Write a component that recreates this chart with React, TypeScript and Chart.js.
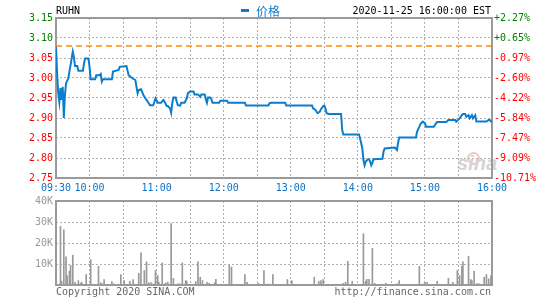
import React, { useEffect, useRef } from 'react';
import { Chart, registerables } from 'chart.js';

Chart.register(...registerables);

// ---------- data ----------
const SYMBOL = 'RUHN';
const LEGEND_LABEL = '价格';
const TIMESTAMP = '2020-11-25 16:00:00 EST';
const COPYRIGHT = 'Copyright 2020 SINA.COM';
const SOURCE_URL = 'http://finance.sina.com.cn';
const PREV_CLOSE = 3.08;

const priceTicks = [2.75, 2.8, 2.85, 2.9, 2.95, 3.0, 3.05, 3.1, 3.15];
const pctTickLabels = ['-10.71%', '-9.09%', '-7.47%', '-5.84%', '-4.22%', '-2.60%', '-0.97%', '+0.65%', '+2.27%'];
const timeTicks = [0, 30, 60, 90, 120, 150, 180, 210, 240, 270, 300, 330, 360, 390];
const timeTickLabels = ['09:30', '10:00', '', '11:00', '', '12:00', '', '13:00', '', '14:00', '', '15:00', '', '16:00'];
const volumeTicks = [0, 10000, 20000, 30000, 40000];
const volumeTickLabels = ['', '10K', '20K', '30K', '40K'];

// minutes after 09:30
const priceMinutes = [
  0, 1, 2, 3, 4, 5, 6, 7, 8, 9, 11, 12, 13, 14, 15, 16, 17, 19, 20, 24,
  25, 26, 29, 30, 31, 35, 36, 39, 40, 41, 42, 50, 51, 56, 57, 63, 65, 68, 71, 72,
  73, 74, 76, 77, 78, 80, 83, 84, 87, 89, 91, 94, 96, 97, 99, 100, 102, 103, 104, 105,
  107, 108, 109, 111, 112, 115, 117, 118, 120, 123, 124, 127, 129, 130, 133, 134, 135, 136, 138, 139,
  140, 146, 147, 153, 154, 169, 170, 190, 191, 193, 205, 206, 229, 230, 232, 234, 236, 237, 239, 240,
  241, 242, 244, 255, 256, 257, 271, 272, 273, 274, 275, 276, 277, 279, 280, 281, 282, 283, 284, 292,
  293, 294, 303, 305, 306, 307, 322, 323, 325, 326, 328, 330, 331, 338, 340, 341, 349, 351, 357, 358,
  361, 363, 364, 366, 367, 369, 370, 372, 373, 375, 376, 385, 387, 388, 390,
];
const prices = [
  3.078, 3.012, 2.962, 2.94, 2.975, 2.945, 2.978, 2.9, 2.958, 2.987, 2.999, 3.016, 3.032, 3.049, 3.066, 3.053, 3.03, 3.03, 3.018, 3.018,
  3.035, 3.049, 3.049, 3.028, 2.997, 2.997, 3.007, 3.007, 3.01, 2.991, 2.997, 2.997, 3.016, 3.02, 3.028, 3.03, 3.007, 3.0, 2.995, 2.978,
  2.962, 2.97, 2.972, 2.966, 2.958, 2.949, 2.937, 2.932, 2.932, 2.949, 2.938, 2.938, 2.945, 2.941, 2.93, 2.93, 2.924, 2.913, 2.937, 2.951,
  2.951, 2.941, 2.932, 2.931, 2.938, 2.938, 2.949, 2.962, 2.966, 2.966, 2.959, 2.959, 2.953, 2.959, 2.959, 2.947, 2.938, 2.951, 2.951, 2.947,
  2.938, 2.938, 2.943, 2.943, 2.938, 2.938, 2.931, 2.931, 2.937, 2.938, 2.938, 2.931, 2.931, 2.924, 2.92, 2.912, 2.916, 2.922, 2.93, 2.931,
  2.924, 2.912, 2.91, 2.91, 2.87, 2.859, 2.859, 2.849, 2.837, 2.824, 2.795, 2.782, 2.791, 2.797, 2.797, 2.791, 2.782, 2.788, 2.797, 2.798,
  2.816, 2.824, 2.826, 2.82, 2.838, 2.851, 2.851, 2.866, 2.878, 2.885, 2.891, 2.887, 2.878, 2.878, 2.887, 2.89, 2.89, 2.895, 2.895, 2.891,
  2.899, 2.907, 2.91, 2.91, 2.903, 2.907, 2.899, 2.907, 2.899, 2.907, 2.891, 2.891, 2.895, 2.895, 2.889,
];

const volumeMinutes = [
  0, 4, 5, 7, 9, 10, 12, 13, 15, 17, 20, 22, 23, 25, 27, 31, 38, 40, 41, 43,
  46, 50, 52, 58, 61, 66, 69, 74, 76, 79, 81, 83, 85, 87, 89, 91, 92, 95, 98, 100,
  103, 105, 109, 111, 113, 116, 117, 125, 127, 129, 131, 135, 137, 142, 143, 145, 147, 155, 157, 169,
  171, 181, 186, 190, 194, 207, 211, 231, 235, 237, 239, 243, 257, 259, 261, 265, 273, 275, 277, 278,
  280, 283, 285, 295, 305, 307, 325, 329, 330, 332, 341, 351, 355, 359, 361, 363, 364, 369, 371, 372,
  374, 377, 379, 383, 385, 387, 389,
];
const volumesK = [
  35.5, 27.9, 1.8, 26.3, 13.4, 4.5, 6.6, 9.4, 14.2, 1.3, 2.1, 0.8, 1.3, 0.2, 5.0, 12.1, 8.9, 1.1, 0.6, 2.6,
  0.2, 1.6, 0.5, 5.0, 2.1, 1.8, 2.6, 5.6, 15.3, 6.9, 11.0, 1.1, 1.1, 0.5, 6.9, 4.5, 1.3, 10.5, 1.0, 1.3,
  29.2, 3.2, 0.6, 0.6, 10.5, 2.1, 1.8, 1.6, 11.0, 3.7, 2.1, 1.3, 0.8, 1.1, 2.7, 0.3, 0.3, 9.4, 8.5, 5.0,
  1.3, 0.8, 6.9, 0.5, 5.0, 2.6, 2.1, 3.7, 1.8, 2.1, 2.6, 0.2, 0.8, 1.3, 11.3, 1.8, 0.3, 24.4, 1.8, 2.7,
  2.7, 17.4, 0.8, 0.8, 0.5, 2.1, 8.9, 0.5, 1.3, 1.3, 1.8, 3.2, 1.3, 6.9, 4.5, 8.9, 11.0, 13.7, 2.6, 2.1,
  6.6, 0.8, 0.5, 3.7, 5.0, 2.9, 4.5,
];

// ---------- styles ----------
const MONO = '"DejaVu Sans Mono", "Liberation Mono", monospace';
const BLUE = '#0b7dcc';
const LABEL_BLUE = '#0a72c8';
const GREEN = '#008000';
const RED = '#ff0000';
const ORANGE = '#ff8c00';
const GRID = '#b0b0b0';
const FRAME = '#9a9a9a';
const VOL_GRAY = '#999999';

const W = 545;
const H = 300;

const framePlugin = {
  id: 'frame',
  beforeDatasetsDraw(chart: any) {
    const { ctx, chartArea } = chart;
    ctx.save();
    ctx.strokeStyle = FRAME;
    ctx.lineWidth = 2;
    ctx.strokeRect(chartArea.left, chartArea.top, chartArea.right - chartArea.left, chartArea.bottom - chartArea.top);
    ctx.restore();
  },
};

export default function App() {
  const priceRef = useRef<HTMLCanvasElement | null>(null);
  const volRef = useRef<HTMLCanvasElement | null>(null);

  useEffect(() => {
    const font = { family: MONO, size: 10 };
    const priceColor = (c: any) => (c.tick && c.tick.value > PREV_CLOSE + 1e-9 ? GREEN : RED);

    const priceChart = new Chart(priceRef.current as HTMLCanvasElement, {
      type: 'line',
      data: {
        datasets: [
          {
            data: priceMinutes.map((m, i) => ({ x: m, y: prices[i] })),
            borderColor: BLUE,
            borderWidth: 2,
            pointRadius: 0,
            tension: 0,
            fill: false,
            order: 0,
          },
          {
            data: [
              { x: timeTicks[0], y: PREV_CLOSE },
              { x: timeTicks[timeTicks.length - 1], y: PREV_CLOSE },
            ],
            borderColor: ORANGE,
            borderWidth: 1.5,
            borderDash: [6, 4],
            pointRadius: 0,
            fill: false,
            order: 1,
          },
        ],
      },
      options: {
        animation: false,
        responsive: false,
        maintainAspectRatio: false,
        events: [],
        layout: { padding: { top: 18, left: 0, right: 0, bottom: 0 } },
        plugins: { legend: { display: false }, tooltip: { enabled: false } },
        scales: {
          x: {
            type: 'linear',
            min: 0,
            max: 390,
            afterBuildTicks: (s: any) => {
              s.ticks = timeTicks.map((v) => ({ value: v }));
            },
            afterFit: (s: any) => {
              s.height = 122;
            },
            ticks: {
              autoSkip: false,
              maxRotation: 0,
              padding: 4,
              color: LABEL_BLUE,
              font,
              callback: (_v: any, i: number) => timeTickLabels[i],
            },
            grid: { color: GRID, lineWidth: 1, drawTicks: false },
            border: { display: false, dash: [2, 2] },
          },
          y: {
            position: 'left',
            min: 2.75,
            max: 3.15,
            afterBuildTicks: (s: any) => {
              s.ticks = priceTicks.map((v) => ({ value: v }));
            },
            afterFit: (s: any) => {
              s.width = 56;
            },
            ticks: {
              padding: 3,
              color: priceColor,
              font,
              callback: (v: any) => Number(v).toFixed(2),
            },
            grid: { color: GRID, lineWidth: 1, drawTicks: false },
            border: { display: false, dash: [2, 2] },
          },
          y2: {
            position: 'right',
            min: 2.75,
            max: 3.15,
            afterBuildTicks: (s: any) => {
              s.ticks = priceTicks.map((v) => ({ value: v }));
            },
            afterFit: (s: any) => {
              s.width = 53;
            },
            ticks: {
              padding: 2,
              color: priceColor,
              font,
              callback: (_v: any, i: number) => pctTickLabels[i],
            },
            grid: { display: false, drawTicks: false },
            border: { display: false },
          },
        },
      } as any,
      plugins: [framePlugin],
    });

    const volChart = new Chart(volRef.current as HTMLCanvasElement, {
      type: 'bar',
      data: {
        datasets: [
          {
            data: volumeMinutes.map((m, i) => ({ x: m, y: volumesK[i] * 1000 })),
            backgroundColor: VOL_GRAY,
            borderWidth: 0,
            barThickness: 1,
          },
        ],
      },
      options: {
        animation: false,
        responsive: false,
        maintainAspectRatio: false,
        events: [],
        layout: { padding: { top: 201, left: 0, right: 53, bottom: 15 } },
        plugins: { legend: { display: false }, tooltip: { enabled: false } },
        scales: {
          x: {
            type: 'linear',
            min: 0,
            max: 390,
            offset: false,
            afterBuildTicks: (s: any) => {
              s.ticks = timeTicks.map((v) => ({ value: v }));
            },
            afterFit: (s: any) => {
              s.height = 0;
            },
            ticks: { display: false },
            grid: { color: GRID, lineWidth: 1, drawTicks: false, offset: false },
            border: { display: false, dash: [2, 2] },
          },
          y: {
            position: 'left',
            min: 0,
            max: 40000,
            afterBuildTicks: (s: any) => {
              s.ticks = volumeTicks.map((v) => ({ value: v }));
            },
            afterFit: (s: any) => {
              s.width = 56;
            },
            ticks: {
              padding: 3,
              color: VOL_GRAY,
              font,
              callback: (_v: any, i: number) => volumeTickLabels[i],
            },
            grid: { color: GRID, lineWidth: 1, drawTicks: false },
            border: { display: false, dash: [2, 2] },
          },
        },
      } as any,
      plugins: [framePlugin],
    });

    return () => {
      priceChart.destroy();
      volChart.destroy();
    };
  }, []);

  const textBase: React.CSSProperties = {
    position: 'absolute',
    fontFamily: MONO,
    fontSize: 10,
    lineHeight: '12px',
    whiteSpace: 'nowrap',
  };

  return (
    <div style={{ position: 'absolute', left: 0, top: 0, width: W, height: H, background: '#fff', overflow: 'hidden' }}>
      {/* watermark */}
      <div
        style={{
          position: 'absolute',
          left: 467,
          top: 152,
          width: 9,
          height: 9,
          borderRadius: '50%',
          border: '2px solid #f3c4c4',
        }}
      />
      <div
        style={{
          position: 'absolute',
          left: 457,
          top: 153,
          fontFamily: '"Liberation Sans", Arial, sans-serif',
          fontSize: 20,
          fontWeight: 'bold',
          fontStyle: 'italic',
          color: '#d4d4d4',
          lineHeight: '20px',
        }}
      >
        sina
      </div>
      <canvas ref={priceRef} width={W} height={H} style={{ position: 'absolute', left: 0, top: 0, width: W, height: H }} />
      <canvas ref={volRef} width={W} height={H} style={{ position: 'absolute', left: 0, top: 0, width: W, height: H }} />
      <div style={{ ...textBase, left: 56, top: 5, color: '#000' }}>{SYMBOL}</div>
      <div style={{ position: 'absolute', left: 241, top: 9, width: 8, height: 3, background: BLUE }} />
      <div
        style={{
          position: 'absolute',
          left: 256,
          top: 5,
          fontFamily: '"Noto Sans CJK SC", sans-serif',
          fontSize: 12,
          lineHeight: '12px',
          color: BLUE,
          whiteSpace: 'nowrap',
        }}
      >
        {LEGEND_LABEL}
      </div>
      <div style={{ ...textBase, right: W - 491, top: 5, color: '#000' }}>{TIMESTAMP}</div>
      <div style={{ ...textBase, left: 56, top: 286, color: '#666' }}>{COPYRIGHT}</div>
      <div style={{ ...textBase, right: W - 491, top: 286, color: '#666' }}>{SOURCE_URL}</div>
    </div>
  );
}
